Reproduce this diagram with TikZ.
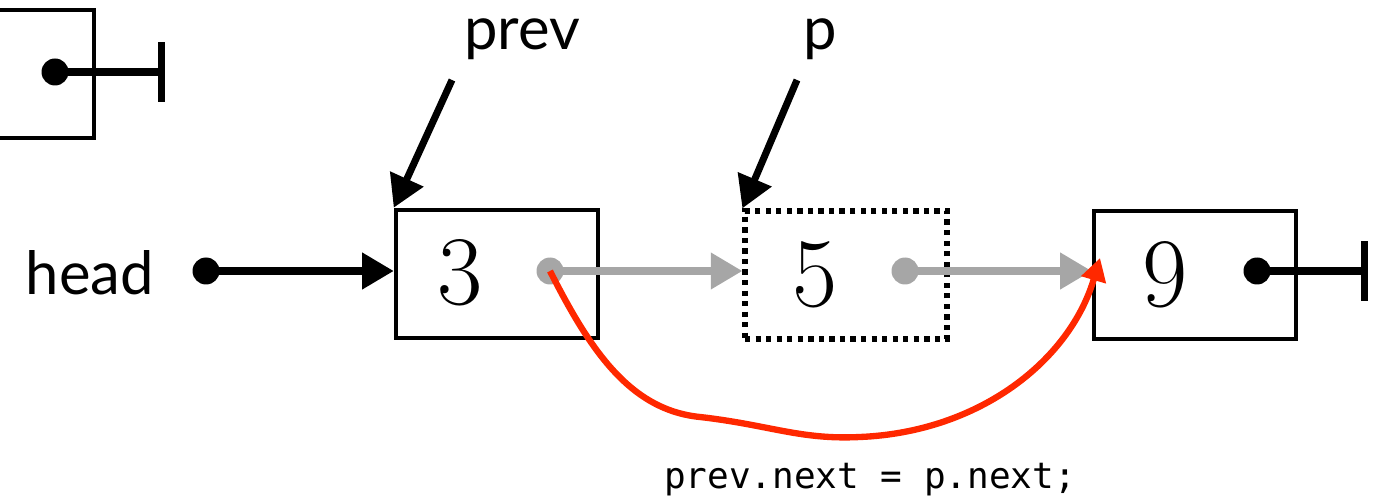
\documentclass[tikz,border=0pt]{standalone}
\usepackage{fontspec}
\setmonofont{DejaVu Sans Mono}
\newfontfamily\lblfont{Lato}
\usetikzlibrary{arrows.meta}
\definecolor{linkred}{RGB}{255,40,0}
\begin{document}
\begin{tikzpicture}[x=0.02cm, y=-0.02cm,
    cell/.style = {shape=rectangle, draw, line width=2.6pt,
      minimum width=4.04cm, minimum height=2.56cm, inner sep=0pt},
    ghost/.style = {cell, line width=3pt, dash pattern=on 3pt off 3pt},
    num/.style = {font=\fontsize{56}{60}\selectfont, anchor=base, inner sep=0pt},
    lbl/.style = {font=\lblfont\fontsize{34}{40}\selectfont, anchor=base, inner sep=0pt},
    code/.style = {font=\ttfamily\fontsize{20.5}{24}\selectfont, anchor=base, inner sep=0pt},
    dot/.style = {circle, fill, inner sep=0pt, minimum size=0.54cm},
    ptr/.style = {line width=4pt, -{Triangle[length=18pt,width=20pt]}},
    link/.style = {ptr, black!35},
    nil/.style = {line width=4pt, -{Bar[width=34pt,line width=4pt]}}]
  \useasboundingbox (0,0) rectangle (1389,499);

  % the old node up left
  \node[cell] (n0) at (-7,74) {};
  \node[dot] (d0) at (55,72) {};
  \coordinate (e0) at (165,72);
  \draw[nil] (d0.center) -- (e0);

  % the list
  \node[cell] (n3) at (497,274) {};
  \node[ghost] (n5) at (846,275) {};
  \node[cell] (n9) at (1195,275) {};
  \node[num] (v3) at (460,305) {3};
  \node[num] (v5) at (815,307) {5};
  \node[num] (v9) at (1165,307) {9};

  \node[lbl] (lhead) at (90,295) {head};
  \node[dot] (dh) at (206,271) {};
  \draw[ptr] (dh.center) -- (dh.center -| n3.west);

  \node[lbl] (lprev) at (522,50) {prev};
  \coordinate (tprev) at (452,80);
  \draw[ptr] (tprev) -- (n3.north west);

  \node[lbl] (lp) at (820,50) {p};
  \coordinate (tp) at (797,80);
  \draw[ptr] (tp) -- (n5.north west);

  \node[dot, black!35] (d3) at (550,271) {};
  \node[dot, black!35] (d5) at (905,271) {};
  \draw[link] (d3.center) -- (d3.center -| n5.west);
  \draw[link] (d5.center) -- (d5.center -| n9.west);

  \node[dot] (d9) at (1257,271) {};
  \coordinate (e9) at (1368,271);
  \draw[nil] (d9.center) -- (e9);

  % new link
  \coordinate (t9) at (1100,258);
  \draw[linkred, line width=3.6pt, -{Triangle[length=13pt,width=14pt]}]
    (d3.center) .. controls (590,350) and (630,410) .. (700,417)
    .. controls (770,425) and (800,440) .. (860,437)
    .. controls (980,432) and (1070,360) .. (t9);
  \node[code] (cmd) at (870,489) {prev.next = p.next;};
\end{tikzpicture}
\end{document}
